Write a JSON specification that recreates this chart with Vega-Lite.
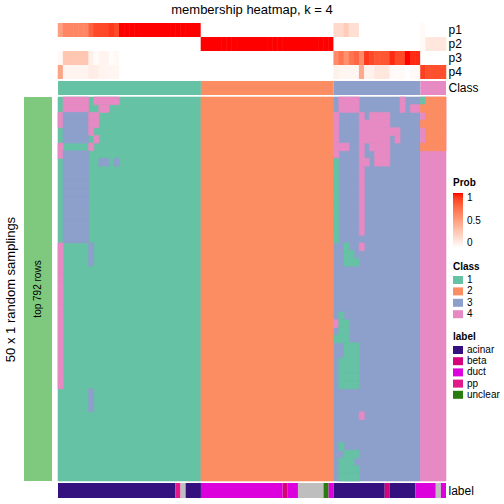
{
"$schema": "https://vega.github.io/schema/vega-lite/v6.json",
"padding": {"left": 4, "top": 4, "right": 0, "bottom": 0},
"background": "white",
"columns": 2,
"spacing": {"row": 2, "column": 6},
"bounds": "flush",
"align": "each",
"datasets": {
"cols": [
{"c":0,"p1":0.5,"p2":0,"p3":0.04,"p4":0.48},
{"c":1,"p1":0.62,"p2":0,"p3":0.3,"p4":0.06},
{"c":2,"p1":0.62,"p2":0,"p3":0.3,"p4":0.06},
{"c":3,"p1":0.62,"p2":0,"p3":0.3,"p4":0.06},
{"c":4,"p1":0.62,"p2":0,"p3":0.3,"p4":0.06},
{"c":5,"p1":0.62,"p2":0,"p3":0.3,"p4":0.06},
{"c":6,"p1":0.78,"p2":0,"p3":0.08,"p4":0.1},
{"c":7,"p1":0.87,"p2":0,"p3":0.02,"p4":0.09},
{"c":8,"p1":0.87,"p2":0,"p3":0.06,"p4":0.06},
{"c":9,"p1":0.87,"p2":0,"p3":0.06,"p4":0.06},
{"c":10,"p1":0.92,"p2":0,"p3":0.01,"p4":0.05},
{"c":11,"p1":0.87,"p2":0,"p3":0.04,"p4":0.05},
{"c":12,"p1":1,"p2":0,"p3":0,"p4":0},
{"c":13,"p1":1,"p2":0,"p3":0,"p4":0},
{"c":14,"p1":1,"p2":0,"p3":0,"p4":0},
{"c":15,"p1":1,"p2":0,"p3":0,"p4":0},
{"c":16,"p1":1,"p2":0,"p3":0,"p4":0},
{"c":17,"p1":1,"p2":0,"p3":0,"p4":0},
{"c":18,"p1":1,"p2":0,"p3":0,"p4":0},
{"c":19,"p1":1,"p2":0,"p3":0,"p4":0},
{"c":20,"p1":1,"p2":0,"p3":0,"p4":0},
{"c":21,"p1":1,"p2":0,"p3":0,"p4":0},
{"c":22,"p1":1,"p2":0,"p3":0,"p4":0},
{"c":23,"p1":1,"p2":0,"p3":0,"p4":0},
{"c":24,"p1":1,"p2":0,"p3":0,"p4":0},
{"c":25,"p1":1,"p2":0,"p3":0,"p4":0},
{"c":26,"p1":1,"p2":0,"p3":0,"p4":0},
{"c":27,"p1":1,"p2":0,"p3":0,"p4":0},
{"c":28,"p1":0,"p2":1,"p3":0,"p4":0},
{"c":29,"p1":0,"p2":1,"p3":0,"p4":0},
{"c":30,"p1":0,"p2":1,"p3":0,"p4":0},
{"c":31,"p1":0,"p2":1,"p3":0,"p4":0},
{"c":32,"p1":0,"p2":1,"p3":0,"p4":0},
{"c":33,"p1":0,"p2":1,"p3":0,"p4":0},
{"c":34,"p1":0,"p2":1,"p3":0,"p4":0},
{"c":35,"p1":0,"p2":1,"p3":0,"p4":0},
{"c":36,"p1":0,"p2":1,"p3":0,"p4":0},
{"c":37,"p1":0,"p2":1,"p3":0,"p4":0},
{"c":38,"p1":0,"p2":1,"p3":0,"p4":0},
{"c":39,"p1":0,"p2":1,"p3":0,"p4":0},
{"c":40,"p1":0,"p2":1,"p3":0,"p4":0},
{"c":41,"p1":0,"p2":1,"p3":0,"p4":0},
{"c":42,"p1":0,"p2":1,"p3":0,"p4":0},
{"c":43,"p1":0,"p2":1,"p3":0,"p4":0},
{"c":44,"p1":0,"p2":1,"p3":0,"p4":0},
{"c":45,"p1":0,"p2":1,"p3":0,"p4":0},
{"c":46,"p1":0,"p2":1,"p3":0,"p4":0},
{"c":47,"p1":0,"p2":1,"p3":0,"p4":0},
{"c":48,"p1":0,"p2":1,"p3":0,"p4":0},
{"c":49,"p1":0,"p2":1,"p3":0,"p4":0},
{"c":50,"p1":0,"p2":1,"p3":0,"p4":0},
{"c":51,"p1":0,"p2":1,"p3":0,"p4":0},
{"c":52,"p1":0,"p2":1,"p3":0,"p4":0},
{"c":53,"p1":0,"p2":1,"p3":0,"p4":0},
{"c":54,"p1":0.2,"p2":0,"p3":0.6,"p4":0.08},
{"c":55,"p1":0.2,"p2":0,"p3":0.7,"p4":0.05},
{"c":56,"p1":0.27,"p2":0,"p3":0.57,"p4":0.05},
{"c":57,"p1":0.17,"p2":0,"p3":0.7,"p4":0.05},
{"c":58,"p1":0.17,"p2":0,"p3":0.76,"p4":0.05},
{"c":59,"p1":0,"p2":0,"p3":0.6,"p4":0.45},
{"c":60,"p1":0,"p2":0,"p3":0.92,"p4":0.07},
{"c":61,"p1":0,"p2":0,"p3":0.87,"p4":0.07},
{"c":62,"p1":0,"p2":0,"p3":0.82,"p4":0.13},
{"c":63,"p1":0,"p2":0,"p3":0.82,"p4":0.13},
{"c":64,"p1":0,"p2":0,"p3":0.82,"p4":0.13},
{"c":65,"p1":0,"p2":0,"p3":0.95,"p4":0.03},
{"c":66,"p1":0,"p2":0,"p3":0.87,"p4":0.03},
{"c":67,"p1":0,"p2":0,"p3":0.87,"p4":0.03},
{"c":68,"p1":0,"p2":0,"p3":1,"p4":0},
{"c":69,"p1":0,"p2":0,"p3":0.95,"p4":0.03},
{"c":70,"p1":0,"p2":0,"p3":0.95,"p4":0.03},
{"c":71,"p1":0.03,"p2":0.03,"p3":0,"p4":0.9},
{"c":72,"p1":0,"p2":0.13,"p3":0,"p4":0.85},
{"c":73,"p1":0,"p2":0.13,"p3":0,"p4":0.85},
{"c":74,"p1":0,"p2":0.13,"p3":0,"p4":0.85},
{"c":75,"p1":0,"p2":0.13,"p3":0,"p4":0.85}
],
"blocks": [
{"from":0,"to":28,"k":"1"},{"from":28,"to":54,"k":"2"},{"from":54,"to":71,"k":"3"},{"from":71,"to":76,"k":"4"}
],
"labels": [
{"from":0,"to":23,"label":"acinar"},{"from":23,"to":24,"label":"pp"},{"from":24,"to":25,"label":"NA"},{"from":25,"to":28,"label":"acinar"},
{"from":28,"to":44,"label":"duct"},{"from":44,"to":45,"label":"beta"},{"from":45,"to":47,"label":"duct"},{"from":47,"to":52,"label":"NA"},
{"from":52,"to":53,"label":"unclear"},{"from":53,"to":54,"label":"duct"},{"from":54,"to":64,"label":"acinar"},{"from":64,"to":65,"label":"beta"},
{"from":65,"to":70,"label":"acinar"},{"from":70,"to":74,"label":"duct"},{"from":74,"to":75,"label":"NA"},{"from":75,"to":76,"label":"duct"}
],
"dev": [
{"r":0,"from":1,"to":6,"k":"4"},{"r":0,"from":7,"to":12,"k":"4"},{"r":0,"from":55,"to":59,"k":"4"},{"r":0,"from":67,"to":68,"k":"4"},{"r":0,"from":71,"to":72,"k":"1"},{"r":0,"from":72,"to":76,"k":"2"},
{"r":1,"from":1,"to":6,"k":"4"},{"r":1,"from":8,"to":10,"k":"4"},{"r":1,"from":55,"to":59,"k":"4"},{"r":1,"from":67,"to":68,"k":"4"},{"r":1,"from":69,"to":71,"k":"4"},{"r":1,"from":71,"to":76,"k":"2"},
{"r":2,"from":0,"to":1,"k":"4"},{"r":2,"from":1,"to":6,"k":"3"},{"r":2,"from":6,"to":8,"k":"4"},{"r":2,"from":54,"to":55,"k":"4"},{"r":2,"from":59,"to":60,"k":"4"},{"r":2,"from":61,"to":65,"k":"4"},{"r":2,"from":72,"to":76,"k":"2"},
{"r":3,"from":0,"to":1,"k":"4"},{"r":3,"from":1,"to":6,"k":"3"},{"r":3,"from":6,"to":8,"k":"4"},{"r":3,"from":54,"to":55,"k":"4"},{"r":3,"from":59,"to":65,"k":"4"},{"r":3,"from":71,"to":76,"k":"2"},
{"r":4,"from":1,"to":6,"k":"3"},{"r":4,"from":6,"to":7,"k":"4"},{"r":4,"from":54,"to":55,"k":"4"},{"r":4,"from":59,"to":67,"k":"4"},{"r":4,"from":72,"to":76,"k":"2"},
{"r":5,"from":1,"to":6,"k":"3"},{"r":5,"from":7,"to":8,"k":"4"},{"r":5,"from":54,"to":55,"k":"4"},{"r":5,"from":59,"to":65,"k":"4"},{"r":5,"from":66,"to":67,"k":"4"},{"r":5,"from":72,"to":76,"k":"2"},
{"r":6,"from":0,"to":1,"k":"4"},{"r":6,"from":6,"to":7,"k":"4"},{"r":6,"from":54,"to":57,"k":"4"},{"r":6,"from":59,"to":60,"k":"4"},{"r":6,"from":61,"to":65,"k":"4"},{"r":6,"from":71,"to":76,"k":"2"},
{"r":7,"from":0,"to":1,"k":"4"},{"r":7,"from":1,"to":6,"k":"3"},{"r":7,"from":54,"to":55,"k":"4"},{"r":7,"from":59,"to":60,"k":"4"},{"r":7,"from":62,"to":65,"k":"4"},
{"r":8,"from":1,"to":6,"k":"3"},{"r":8,"from":8,"to":10,"k":"3"},{"r":8,"from":11,"to":12,"k":"3"},{"r":8,"from":54,"to":55,"k":"1"},{"r":8,"from":59,"to":61,"k":"4"},{"r":8,"from":62,"to":65,"k":"4"},
{"r":9,"from":1,"to":6,"k":"3"},{"r":9,"from":54,"to":55,"k":"1"},{"r":9,"from":59,"to":60,"k":"4"},
{"r":10,"from":1,"to":6,"k":"3"},{"r":10,"from":54,"to":55,"k":"1"},{"r":10,"from":59,"to":60,"k":"4"},
{"r":11,"from":1,"to":6,"k":"3"},{"r":11,"from":54,"to":55,"k":"1"},{"r":11,"from":59,"to":60,"k":"4"},
{"r":12,"from":1,"to":6,"k":"3"},{"r":12,"from":54,"to":55,"k":"1"},{"r":12,"from":59,"to":60,"k":"4"},
{"r":13,"from":1,"to":6,"k":"3"},{"r":13,"from":54,"to":55,"k":"1"},{"r":13,"from":59,"to":60,"k":"4"},
{"r":14,"from":1,"to":6,"k":"3"},{"r":14,"from":54,"to":55,"k":"1"},{"r":14,"from":59,"to":60,"k":"4"},
{"r":15,"from":1,"to":6,"k":"3"},{"r":15,"from":54,"to":55,"k":"1"},{"r":15,"from":59,"to":60,"k":"4"},
{"r":16,"from":1,"to":6,"k":"3"},{"r":16,"from":54,"to":55,"k":"1"},{"r":16,"from":59,"to":60,"k":"4"},
{"r":17,"from":1,"to":6,"k":"3"},{"r":17,"from":54,"to":55,"k":"1"},{"r":17,"from":59,"to":60,"k":"4"},
{"r":18,"from":1,"to":6,"k":"3"},{"r":18,"from":54,"to":55,"k":"1"},
{"r":19,"from":0,"to":1,"k":"4"},{"r":19,"from":6,"to":7,"k":"3"},{"r":19,"from":56,"to":57,"k":"1"},{"r":19,"from":59,"to":60,"k":"4"},
{"r":20,"from":0,"to":1,"k":"4"},{"r":20,"from":6,"to":7,"k":"3"},{"r":20,"from":56,"to":58,"k":"1"},
{"r":21,"from":0,"to":1,"k":"4"},{"r":21,"from":6,"to":7,"k":"3"},{"r":21,"from":56,"to":59,"k":"1"},
{"r":22,"from":0,"to":1,"k":"4"},{"r":23,"from":0,"to":1,"k":"4"},{"r":24,"from":0,"to":1,"k":"4"},{"r":25,"from":0,"to":1,"k":"4"},{"r":26,"from":0,"to":1,"k":"4"},{"r":27,"from":0,"to":1,"k":"4"},
{"r":28,"from":0,"to":1,"k":"4"},{"r":28,"from":55,"to":56,"k":"1"},
{"r":29,"from":0,"to":1,"k":"4"},{"r":29,"from":54,"to":55,"k":"4"},{"r":29,"from":55,"to":57,"k":"1"},
{"r":30,"from":0,"to":1,"k":"4"},{"r":30,"from":55,"to":57,"k":"1"},
{"r":31,"from":0,"to":1,"k":"4"},{"r":31,"from":54,"to":57,"k":"1"},
{"r":32,"from":0,"to":1,"k":"4"},{"r":32,"from":56,"to":59,"k":"1"},
{"r":33,"from":0,"to":1,"k":"4"},{"r":33,"from":56,"to":59,"k":"1"},
{"r":34,"from":0,"to":1,"k":"4"},{"r":34,"from":55,"to":59,"k":"1"},
{"r":35,"from":0,"to":1,"k":"4"},{"r":35,"from":55,"to":59,"k":"1"},
{"r":36,"from":0,"to":1,"k":"4"},{"r":36,"from":55,"to":59,"k":"1"},
{"r":37,"from":0,"to":1,"k":"4"},{"r":37,"from":55,"to":59,"k":"1"},
{"r":38,"from":6,"to":7,"k":"3"},{"r":39,"from":6,"to":7,"k":"3"},{"r":40,"from":6,"to":7,"k":"3"},
{"r":41,"from":59,"to":60,"k":"4"},
{"r":45,"from":55,"to":56,"k":"1"},
{"r":46,"from":56,"to":59,"k":"1"},
{"r":47,"from":55,"to":58,"k":"1"},
{"r":48,"from":55,"to":59,"k":"1"},
{"r":49,"from":55,"to":59,"k":"1"}
]
},
"concat": [
{"width": 28, "height": 56, "data": {"values": [{}]}, "mark": {"type": "rect", "opacity": 0}, "encoding": {}},
{"width": 388, "height": 56,
 "title": {"text": "membership heatmap, k = 4", "fontSize": 13, "fontWeight": "normal", "anchor": "middle", "offset": 6, "color": "black"},
 "data": {"name": "cols"},
 "transform": [{"fold": ["p1", "p2", "p3", "p4"], "as": ["key", "value"]}],
 "mark": {"type": "rect", "width": {"band": 1.1}},
 "encoding": {
  "x": {"field": "c", "type": "ordinal", "axis": null, "scale": {"paddingInner": 0, "paddingOuter": 0}},
  "y": {"field": "key", "type": "nominal", "scale": {"domain": ["p1", "p2", "p3", "p4"], "paddingInner": 0, "paddingOuter": 0},
        "axis": {"orient": "right", "title": null, "ticks": false, "domain": false, "labelFontSize": 12, "labelPadding": 2}},
  "color": {"field": "value", "type": "quantitative",
   "scale": {"domain": [0, 1], "range": ["#ffffff", "#ff0000"], "interpolate": "lab"},
   "legend": {"title": "Prob", "orient": "none", "legendX": 395, "legendY": 155, "direction": "vertical", "gradientLength": 55, "gradientThickness": 10, "values": [0, 0.5, 1], "format": "~g", "titlePadding": 5, "labelOffset": 4, "gradientStrokeWidth": 0}}
 }
},
{"width": 28, "height": 14, "data": {"values": [{}]}, "mark": {"type": "rect", "opacity": 0}, "encoding": {}},
{"width": 388, "height": 14,
 "data": {"name": "blocks"},
 "mark": {"type": "rect"},
 "encoding": {
  "x": {"field": "from", "type": "quantitative", "scale": {"domain": [0, 76], "nice": false, "zero": false}, "axis": null},
  "x2": {"field": "to"},
  "y": {"datum": "Class", "type": "nominal", "scale": {"paddingInner": 0, "paddingOuter": 0},
        "axis": {"orient": "right", "title": null, "ticks": false, "domain": false, "labelFontSize": 12, "labelPadding": 2}},
  "color": {"field": "k", "type": "nominal",
   "scale": {"domain": ["1", "2", "3", "4"], "range": ["#66c2a5", "#fc8d62", "#8da0cb", "#e78ac3"]},
   "legend": {"title": "Class", "orient": "none", "legendX": 395, "legendY": 181, "symbolType": "M-1,-0.8H1V0.8H-1Z", "symbolSize": 100, "symbolStrokeWidth": 0, "symbolOpacity": 1, "rowPadding": 1.4, "titlePadding": 3, "labelOffset": 4}}
 }
},
{"width": 28, "height": 384,
 "data": {"values": [{"lab": "top 792 rows"}]},
 "encoding": {"y": {"field": "lab", "type": "nominal", "scale": {"paddingInner": 0, "paddingOuter": 0},
   "axis": {"title": "50 x 1 random samplings", "labels": false, "ticks": false, "domain": false, "titleFontSize": 13, "titleFontWeight": "normal", "titlePadding": 7}}},
 "layer": [
  {"mark": {"type": "rect", "color": "#7fc97f"}},
  {"mark": {"type": "text", "angle": 270, "fontSize": 10, "color": "black"}, "encoding": {"text": {"field": "lab"}}}
 ]
},
{"width": 388, "height": 384,
 "layer": [
  {"data": {"name": "blocks"}, "mark": {"type": "rect", "strokeWidth": 0.6},
   "encoding": {
    "x": {"field": "from", "type": "quantitative", "scale": {"domain": [0, 76], "nice": false, "zero": false}, "axis": null},
    "x2": {"field": "to"},
    "color": {"field": "k", "type": "nominal", "scale": {"domain": ["1", "2", "3", "4"], "range": ["#66c2a5", "#fc8d62", "#8da0cb", "#e78ac3"]}, "legend": null},
    "stroke": {"field": "k", "type": "nominal", "scale": {"domain": ["1", "2", "3", "4"], "range": ["#66c2a5", "#fc8d62", "#8da0cb", "#e78ac3"]}, "legend": null}
   }},
  {"data": {"name": "dev"}, "mark": {"type": "rect", "strokeWidth": 0.6},
   "encoding": {
    "x": {"field": "from", "type": "quantitative", "scale": {"domain": [0, 76], "nice": false, "zero": false}, "axis": null},
    "x2": {"field": "to"},
    "y": {"field": "r", "type": "ordinal", "axis": null, "scale": {"domain": [0,1,2,3,4,5,6,7,8,9,10,11,12,13,14,15,16,17,18,19,20,21,22,23,24,25,26,27,28,29,30,31,32,33,34,35,36,37,38,39,40,41,42,43,44,45,46,47,48,49], "paddingInner": 0, "paddingOuter": 0}},
    "color": {"field": "k", "type": "nominal", "scale": {"domain": ["1", "2", "3", "4"], "range": ["#66c2a5", "#fc8d62", "#8da0cb", "#e78ac3"]}, "legend": null},
    "stroke": {"field": "k", "type": "nominal", "scale": {"domain": ["1", "2", "3", "4"], "range": ["#66c2a5", "#fc8d62", "#8da0cb", "#e78ac3"]}, "legend": null}
   }}
 ]
},
{"width": 28, "height": 15, "data": {"values": [{}]}, "mark": {"type": "rect", "opacity": 0}, "encoding": {}},
{"width": 388, "height": 15,
 "data": {"name": "labels"},
 "mark": {"type": "rect"},
 "encoding": {
  "x": {"field": "from", "type": "quantitative", "scale": {"domain": [0, 76], "nice": false, "zero": false}, "axis": null},
  "x2": {"field": "to"},
  "y": {"datum": "label", "type": "nominal", "scale": {"paddingInner": 0, "paddingOuter": 0},
        "axis": {"orient": "right", "title": null, "ticks": false, "domain": false, "labelFontSize": 12, "labelPadding": 2}},
  "color": {"field": "label", "type": "nominal",
   "scale": {"domain": ["acinar", "beta", "duct", "pp", "unclear", "NA"], "range": ["#35107f", "#d4047c", "#dc00dc", "#e3188a", "#2a7c0e", "#bebebe"]},
   "legend": {"title": "label", "orient": "none", "legendX": 395, "legendY": -151, "values": ["acinar", "beta", "duct", "pp", "unclear"], "symbolType": "M-1,-0.8H1V0.8H-1Z", "symbolSize": 100, "symbolStrokeWidth": 0, "symbolOpacity": 1, "rowPadding": 1.2, "titlePadding": 3, "labelOffset": 4}}
 }
}
],
"config": {
 "view": {"stroke": null},
 "font": "Liberation Sans",
 "axis": {"labelColor": "black", "titleColor": "black", "labelFont": "Liberation Sans", "titleFont": "Liberation Sans"},
 "legend": {"labelColor": "black", "titleColor": "black", "titleFontSize": 10, "titleFontWeight": "bold", "labelFontSize": 10, "padding": 0, "labelFont": "Liberation Sans", "titleFont": "Liberation Sans"},
 "title": {"color": "black", "font": "Liberation Sans"}
}
}
